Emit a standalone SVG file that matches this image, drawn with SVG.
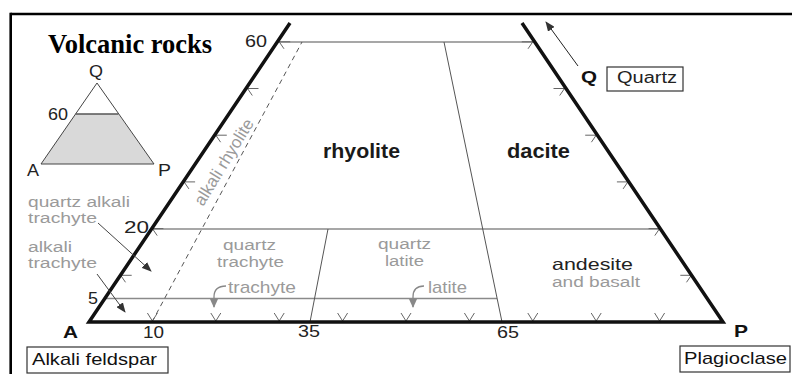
<svg xmlns="http://www.w3.org/2000/svg" width="792" height="374" viewBox="0 0 792 374">
<style>
text{font-family:"Liberation Sans",Arial,sans-serif}
.t{font-family:"Liberation Serif","Times New Roman",serif;font-weight:bold;font-size:26.5px;fill:#000}
.g{fill:#9a9a9a;font-size:17px}
.s{font-size:15.5px}
.n{fill:#222;font-size:17px}
.b{fill:#1a1a1a;font-weight:bold;font-size:20px}
.box{fill:#fff;stroke:#333;stroke-width:1.2}
.edge{fill:none;stroke:#111;stroke-width:3.5;stroke-linejoin:miter}
.grid{fill:none;stroke:#8a8a8a;stroke-width:1.4}
.div{fill:none;stroke:#555;stroke-width:1}
.tick{fill:none;stroke:#666;stroke-width:1}
.arr{fill:none;stroke:#444;stroke-width:1}
.carr{fill:none;stroke:#888;stroke-width:1.3}
</style>
<defs>
<marker id="ah" markerWidth="10" markerHeight="8" refX="9" refY="4" orient="auto" markerUnits="userSpaceOnUse">
<path d="M0,0 L10,4 L0,8 Z" fill="#333"/>
</marker>
<marker id="ahg" markerWidth="9" markerHeight="8" refX="8" refY="4" orient="auto" markerUnits="userSpaceOnUse">
<path d="M0,0 L9,4 L0,8 Z" fill="#888"/>
</marker>
</defs>

<g id="frame">
<line x1="10.5" y1="14" x2="792" y2="14" stroke="#000" stroke-width="2.6"/>
<line x1="10.7" y1="12.7" x2="10.7" y2="374" stroke="#000" stroke-width="2.6"/>
</g>

<g id="title"><text class="t" x="48" y="53">Volcanic rocks</text></g>

<g id="inset">
<polygon points="41,164 154,164 118.4,114 75.6,114" fill="#d9d9d9"/>
<polygon points="41,164 154,164 97,83" fill="none" stroke="#444" stroke-width="1"/>
<line x1="75.6" y1="114" x2="118.4" y2="114" stroke="#555" stroke-width="1.5"/>
<text class="n" x="89" y="77" font-size="15" textLength="14" lengthAdjust="spacingAndGlyphs">Q</text>
<text class="n" x="48" y="120" font-size="16" textLength="20" lengthAdjust="spacingAndGlyphs">60</text>
<text class="n" x="27" y="176" font-size="15" textLength="12" lengthAdjust="spacingAndGlyphs">A</text>
<text class="n" x="158" y="176" font-size="15" textLength="13" lengthAdjust="spacingAndGlyphs">P</text>
</g>

<g id="grid">
<line class="grid" x1="279" y1="42" x2="533" y2="42"/>
<line class="grid" x1="152" y1="229" x2="660" y2="229"/>
<line class="grid" x1="105" y1="298.5" x2="497" y2="298.5"/>
<line class="div" x1="310" y1="322" x2="328" y2="229"/>
<line class="div" x1="502" y1="322" x2="444" y2="42"/>
<line x1="152" y1="322" x2="302" y2="42" stroke="#555" stroke-width="1" stroke-dasharray="5,4"/>
</g>

<g id="ticks" class="tick">
<path d="M120.7,275.3 h11 M120.7,275.3 l4.8,7 M152.4,228.6 h11 M152.4,228.6 l4.8,7 M184.1,181.9 h11 M184.1,181.9 l4.8,7 M215.8,135.2 h11 M215.8,135.2 l4.8,7 M247.5,88.5 h11 M247.5,88.5 l4.8,7 M279.2,41.8 h11 M279.2,41.8 l4.8,7"/>
<path d="M691.3,275.3 h-11 M691.3,275.3 l-4.8,7 M659.6,228.6 h-11 M659.6,228.6 l-4.8,7 M627.9,181.9 h-11 M627.9,181.9 l-4.8,7 M596.2,135.2 h-11 M596.2,135.2 l-4.8,7 M564.5,88.5 h-11 M564.5,88.5 l-4.8,7 M532.8,41.8 h-11 M532.8,41.8 l-4.8,7"/>
<path d="M147.4,313 L152.4,321 L157.4,313 M210.8,313 L215.8,321 L220.8,313 M274.2,313 L279.2,321 L284.2,313 M337.6,313 L342.6,321 L347.6,313 M401,313 L406,321 L411,313 M464.4,313 L469.4,321 L474.4,313 M527.8,313 L532.8,321 L537.8,313 M591.2,313 L596.2,321 L601.2,313 M654.6,313 L659.6,321 L664.6,313"/>
</g>

<g id="triangle-edges">
<path class="edge" d="M290,23 L89,322 L723,322 L522,23"/>
</g>

<g id="connectors">
<line class="arr" x1="98" y1="223" x2="151" y2="271" marker-end="url(#ah)"/>
<line class="arr" x1="97" y1="274" x2="125" y2="312" marker-end="url(#ah)"/>
<line x1="578" y1="66" x2="546" y2="22" stroke="#222" stroke-width="1" marker-end="url(#ah)"/>
<path class="carr" d="M226,286 C218,286 214,290 214,297 L214,307" marker-end="url(#ahg)"/>
<path class="carr" d="M424,286 C416,286 413,290 413,297 L413,307" marker-end="url(#ahg)"/>
</g>

<g id="n-rhyolite"><text class="b" x="323" y="158" textLength="77" lengthAdjust="spacingAndGlyphs">rhyolite</text></g>
<g id="n-dacite"><text class="b" x="507" y="158" textLength="63" lengthAdjust="spacingAndGlyphs">dacite</text></g>
<g id="n-alkali-rhyolite"><text class="g" transform="translate(203,207) rotate(-58.5)" font-size="16.5">alkali rhyolite</text></g>
<g id="n-quartz-alkali-trachyte">
<text class="g s" x="28" y="206.5" textLength="102" lengthAdjust="spacingAndGlyphs">quartz alkali</text>
<text class="g s" x="28" y="222.5" textLength="69" lengthAdjust="spacingAndGlyphs">trachyte</text>
</g>
<g id="n-alkali-trachyte">
<text class="g s" x="28" y="251.5" textLength="44" lengthAdjust="spacingAndGlyphs">alkali</text>
<text class="g s" x="28" y="267.5" textLength="69" lengthAdjust="spacingAndGlyphs">trachyte</text>
</g>
<g id="n-quartz-trachyte">
<text class="g s" x="223" y="249.5" textLength="53" lengthAdjust="spacingAndGlyphs">quartz</text>
<text class="g s" x="217" y="266.5" textLength="67" lengthAdjust="spacingAndGlyphs">trachyte</text>
</g>
<g id="n-quartz-latite">
<text class="g s" x="378" y="248.5" textLength="53" lengthAdjust="spacingAndGlyphs">quartz</text>
<text class="g s" x="385" y="265.5" textLength="39" lengthAdjust="spacingAndGlyphs">latite</text>
</g>
<g id="n-trachyte"><text class="g" x="228" y="293" textLength="68" lengthAdjust="spacingAndGlyphs">trachyte</text></g>
<g id="n-latite"><text class="g" x="428" y="293" textLength="39" lengthAdjust="spacingAndGlyphs">latite</text></g>
<g id="n-andesite">
<text x="552" y="269.5" fill="#222" font-size="16.5" textLength="81" lengthAdjust="spacingAndGlyphs">andesite</text>
<text class="g s" x="552" y="287" textLength="88" lengthAdjust="spacingAndGlyphs">and basalt</text>
</g>

<g id="labels-numbers">
<text class="n" x="245" y="47" textLength="22" lengthAdjust="spacingAndGlyphs">60</text>
<text class="n" x="124" y="233" textLength="25" lengthAdjust="spacingAndGlyphs">20</text>
<text class="n" x="88" y="304" textLength="10" lengthAdjust="spacingAndGlyphs">5</text>
<text class="n" x="143" y="338" textLength="21" lengthAdjust="spacingAndGlyphs">10</text>
<text class="n" x="298" y="337" textLength="22" lengthAdjust="spacingAndGlyphs">35</text>
<text class="n" x="497" y="338" textLength="22" lengthAdjust="spacingAndGlyphs">65</text>
</g>

<g id="n-A">
<text x="63" y="338" font-weight="bold" font-size="17" fill="#111" textLength="15" lengthAdjust="spacingAndGlyphs">A</text>
<rect class="box" x="27" y="347" width="141" height="26"/>
<text x="32" y="365" font-size="17" fill="#111" textLength="125" lengthAdjust="spacingAndGlyphs">Alkali feldspar</text>
</g>
<g id="n-P">
<text x="734" y="337" font-weight="bold" font-size="17" fill="#111" textLength="14" lengthAdjust="spacingAndGlyphs">P</text>
<rect class="box" x="680" y="346" width="110" height="26"/>
<text x="684" y="364" font-size="17" fill="#111" textLength="103" lengthAdjust="spacingAndGlyphs">Plagioclase</text>
</g>
<g id="n-Q">
<text x="581" y="83" font-weight="bold" font-size="16" fill="#111" textLength="16" lengthAdjust="spacingAndGlyphs">Q</text>
<rect class="box" x="607" y="67" width="76" height="24"/>
<text x="617" y="83" font-size="16" fill="#222" textLength="60" lengthAdjust="spacingAndGlyphs">Quartz</text>
</g>
</svg>
